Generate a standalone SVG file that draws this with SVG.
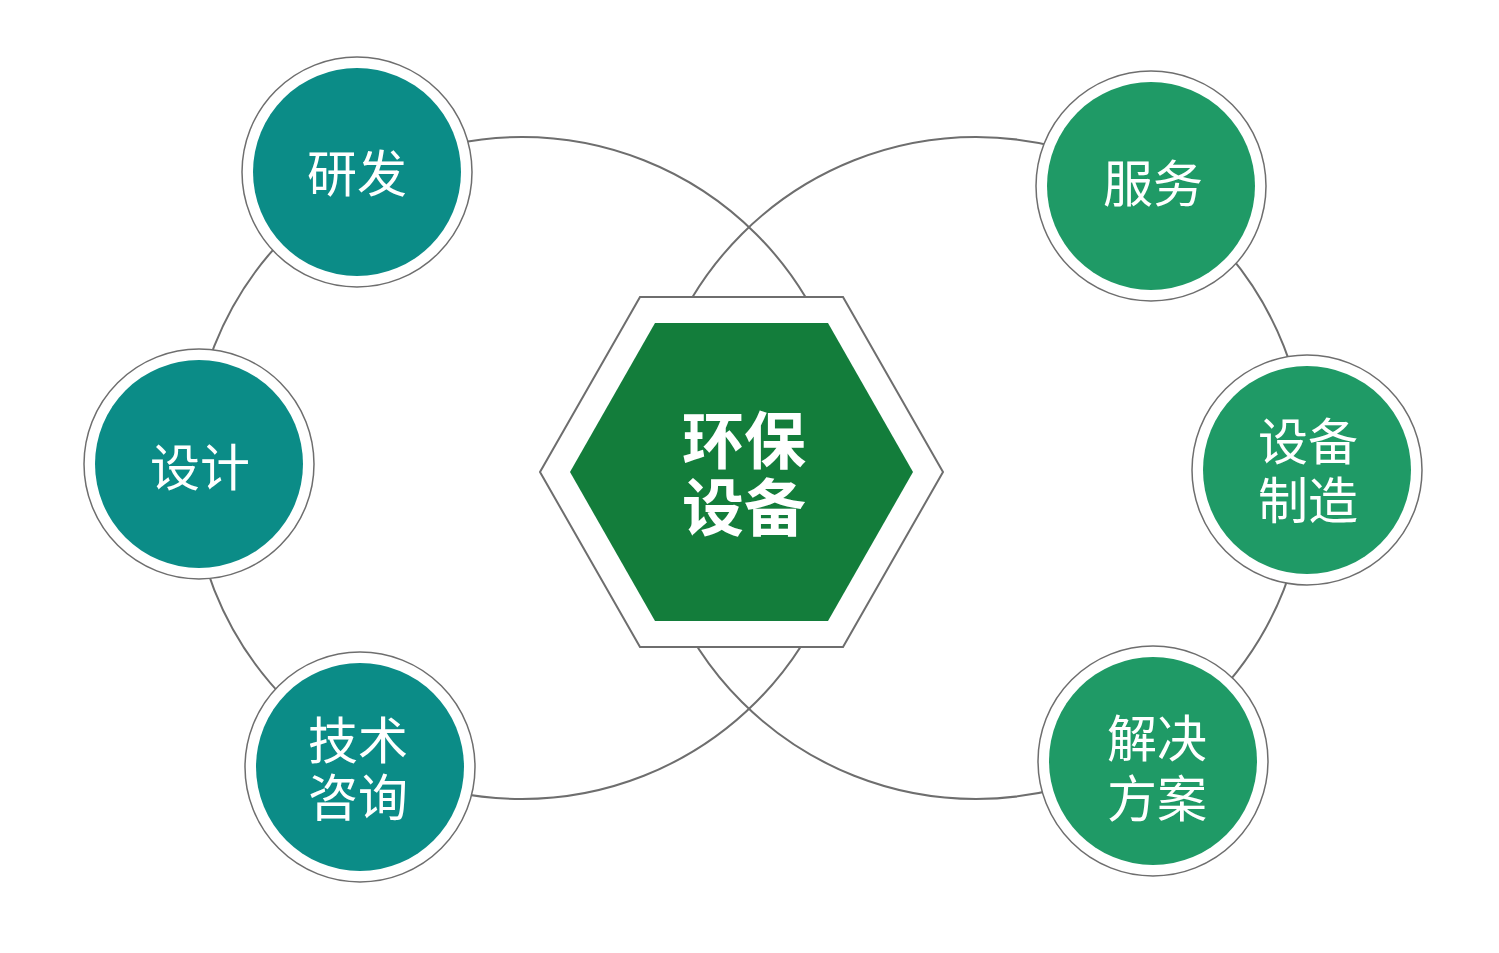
<svg xmlns="http://www.w3.org/2000/svg" width="1499" height="953" viewBox="0 0 1499 953">
<style>
.big{fill:none;stroke:#6e6e6e;stroke-width:2}
.ring{fill:#fff;stroke:#6e6e6e;stroke-width:1.5}
.teal{fill:#0b8c87}
.green{fill:#1f9a66}
.lbl{font-family:"Noto Sans CJK SC","Noto Sans",sans-serif;font-size:50px;fill:#fff;text-anchor:middle}
.ctr{font-family:"Noto Sans CJK SC","Noto Sans",sans-serif;font-size:62px;font-weight:bold;fill:#fff;text-anchor:middle}
</style>
<rect width="1499" height="953" fill="#fff"/>
<g id="connectors">
<circle class="big" cx="522" cy="468" r="331"/>
<circle class="big" cx="976" cy="468" r="331"/>
</g>
<g id="center">
<polygon points="540,472 640,297 843,297 943,472 843,647 640,647" fill="#fff" stroke="#6e6e6e" stroke-width="2"/>
<polygon points="570,472 655,323 828,323 913,472 828,621 655,621" fill="#137d3b"/>
<text class="ctr" x="744" y="464">环保<tspan x="744" dy="67">设备</tspan></text>
</g>
<g id="n-yanfa">
<circle class="ring" cx="357" cy="172" r="115"/>
<circle class="teal" cx="357" cy="172" r="104"/>
<text class="lbl" x="357" y="192">研发</text>
</g>
<g id="n-sheji">
<circle class="ring" cx="199" cy="464" r="115"/>
<circle class="teal" cx="199" cy="464" r="104"/>
<text class="lbl" x="200" y="486">设计</text>
</g>
<g id="n-jishu">
<circle class="ring" cx="360" cy="767" r="115"/>
<circle class="teal" cx="360" cy="767" r="104"/>
<text class="lbl" x="358" y="759">技术<tspan x="358" dy="57">咨询</tspan></text>
</g>
<g id="n-fuwu">
<circle class="ring" cx="1151" cy="186" r="115"/>
<circle class="green" cx="1151" cy="186" r="104"/>
<text class="lbl" x="1153" y="202">服务</text>
</g>
<g id="n-zhizao">
<circle class="ring" cx="1307" cy="470" r="115"/>
<circle class="green" cx="1307" cy="470" r="104"/>
<text class="lbl" x="1308" y="460">设备<tspan x="1308" dy="59">制造</tspan></text>
</g>
<g id="n-fangan">
<circle class="ring" cx="1153" cy="761" r="115"/>
<circle class="green" cx="1153" cy="761" r="104"/>
<text class="lbl" x="1157" y="757">解决<tspan x="1157" dy="60">方案</tspan></text>
</g>
</svg>
